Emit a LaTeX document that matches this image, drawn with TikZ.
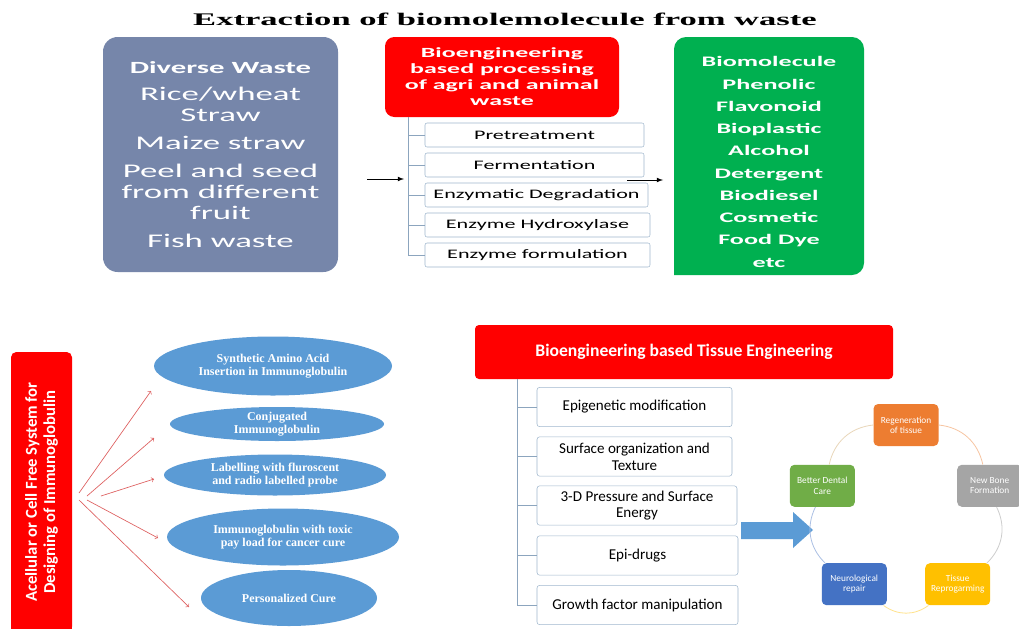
\documentclass[tikz,border=0pt]{standalone}
\usepackage{fontspec}
\setmainfont{Carlito}
\newfontfamily\titlefont[FakeStretch=1.95]{Liberation Serif}
\newfontfamily\wideA[FakeStretch=1.7]{Carlito}
\newfontfamily\wideB[FakeStretch=1.85]{Carlito}
\newfontfamily\wideC[FakeStretch=1.8]{Carlito}
\newfontfamily\blobfont{Liberation Serif}
\usepackage{tikz}
\usetikzlibrary{shapes.geometric}
\definecolor{wastegrey}{RGB}{118,134,170}
\definecolor{prodgreen}{RGB}{0,176,80}
\definecolor{blobblue}{RGB}{91,155,213}
\definecolor{stepline}{RGB}{160,184,206}
\definecolor{trunkline}{RGB}{140,165,190}
\definecolor{fanred}{RGB}{222,96,96}
\definecolor{cOrange}{RGB}{237,125,49}
\definecolor{cGrey}{RGB}{165,165,165}
\definecolor{cGold}{RGB}{255,192,0}
\definecolor{cBlue}{RGB}{68,114,196}
\definecolor{cGreen}{RGB}{112,173,71}

\begin{document}
\begin{tikzpicture}[x=0.75pt,y=-0.75pt]
		\tikzset{stepbox/.style={draw=stepline,fill=white,rounded corners=1.5pt,minimum height=18pt,inner sep=0pt,align=center,font=\wideA\fontsize{9.75}{11}\selectfont},
			tissuebox/.style={draw=stepline,fill=white,rounded corners=2pt,minimum height=29.5pt,inner sep=0pt,align=center,font=\fontsize{11.3}{12.5}\selectfont},
			blob/.style={ellipse,fill=blobblue,text=white,inner sep=0pt,align=center,font=\blobfont\bfseries\fontsize{9}{9.5}\selectfont},
			cycbox/.style={fill=#1,rounded corners=3.5pt,minimum width=48.75pt,minimum height=31.5pt,inner sep=0pt,text=white,align=center,font=\fontsize{7}{7.8}\selectfont},
			cycarc/.style={draw=#1,line width=0.6pt},
			branch/.style={draw=trunkline,line width=0.6pt},
			link/.style={-latex,line width=0.6pt},
			fan/.style={->,draw=fanred,line width=0.5pt}};
		\useasboundingbox[fill=white] (0,0) rectangle (1019,628);
		\clip (0,0) rectangle (1019,628);
		\node[anchor=base,font=\titlefont\bfseries\fontsize{13.3}{15}\selectfont] (title) at (505,25) {Extraction of biomolemolecule from waste};
		% waste sources, processing steps and products
		\node[fill=wastegrey,rounded corners=11pt,minimum width=176.25pt,minimum height=176.25pt,inner sep=0pt,text=white,align=center,font=\wideC\fontsize{14.5}{15.75}\selectfont] (waste) at (220.5,154.5)
			{{\bfseries\fontsize{12.8}{15.75}\selectfont Diverse Waste}\\[4.5pt] Rice/wheat\\ Straw\\[5pt] Maize straw\\[5.5pt] Peel and seed\\ from different\\ fruit\\[5pt] Fish waste};
		\node[fill=red,rounded corners=7pt,minimum width=175.5pt,minimum height=60pt,inner sep=0pt,text=white,align=center,font=\wideB\bfseries\fontsize{10.5}{12}\selectfont] (proc) at (502,77)
			{Bioengineering\\ based processing\\ of agri and animal\\ waste};
		\node[stepbox,minimum width=164.25pt] (s1) at (534.5,135) {Pretreatment};
		\node[stepbox,minimum width=164.25pt] (s2) at (534.5,165) {Fermentation};
		\node[stepbox,minimum width=167.25pt] (s3) at (536.5,195) {Enzymatic Degradation};
		\node[stepbox,minimum width=168.75pt] (s4) at (537.5,225) {Enzyme Hydroxylase};
		\node[stepbox,minimum width=168.75pt] (s5) at (537.5,255) {Enzyme formulation};
		\coordinate (trunk) at (proc.south -| 408,0);
		\foreach \i in {1,...,5} \draw[branch] (trunk) |- (s\i.west);
		\fill[prodgreen] (674,275) [rounded corners=9pt] |- (769,37) -| (864,275) [sharp corners] -- cycle;
		\node[text=white,align=center,font=\wideC\bfseries\fontsize{10.9}{16.7}\selectfont] (prod) at (769,162)
			{Biomolecule\\ Phenolic\\ Flavonoid\\ Bioplastic\\ Alcohol\\ Detergent\\ Biodiesel\\ Cosmetic\\ Food Dye\\ etc};
		\coordinate (inA) at (367,179);
		\coordinate (inB) at (404,179);
		\coordinate (outA) at (627,180);
		\coordinate (outB) at (663,180);
		\draw[link] (inA) -- (inB);
		\draw[link] (outA) -- (outB);
		% cell free system
		\fill[red] (11,600) rectangle (72,640);
		\node[fill=red,rounded corners=4pt,rotate=90,minimum width=210pt,minimum height=45.75pt,inner sep=0pt,text=white,align=center,font=\bfseries\fontsize{12.5}{13.7}\selectfont] (cellfree) at (41.5,492)
			{Acellular or Cell Free System for\\ Designing of Immunoglobulin};
		\node[blob,minimum width=178.5pt,minimum height=44.25pt] (e1) at (273,366) {Synthetic Amino Acid\\ Insertion in Immunoglobulin};
		\node[blob,minimum width=160.5pt,minimum height=25.5pt] (e2) at (277,424) {Conjugated\\ Immunoglobulin};
		\node[blob,minimum width=166.5pt,minimum height=30.75pt] (e3) at (275,475) {Labelling with fluroscent\\ and radio labelled probe};
		\node[blob,minimum width=174pt,minimum height=42.75pt] (e4) at (283,537) {Immunoglobulin with toxic\\ pay load for cancer cure};
		\node[blob,minimum width=132pt,minimum height=42pt] (e5) at (289,598) {Personalized Cure};
		\coordinate (f1) at (79,493);  \coordinate (g1) at (151,391);
		\coordinate (f2) at (87,496);  \coordinate (g2) at (154,438);
		\coordinate (f3) at (101,496); \coordinate (g3) at (154,479);
		\coordinate (f4) at (87,500);  \coordinate (g4) at (158,538);
		\coordinate (f5) at (79,500);  \coordinate (g5) at (189,607);
		\foreach \i in {1,...,5} \draw[fan] (f\i) -- (g\i);
		% tissue engineering
		\node[fill=red,rounded corners=3pt,minimum width=313.5pt,minimum height=40.5pt,inner sep=0pt,text=white,font=\bfseries\fontsize{13.2}{15}\selectfont] (head) at (684,352) {Bioengineering based Tissue Engineering};
		\node[tissuebox,minimum width=146.25pt] (t1) at (634.5,407) {Epigenetic modification};
		\node[tissuebox,minimum width=146.25pt] (t2) at (634.5,456.5) {Surface organization and\\ Texture};
		\node[tissuebox,minimum width=150pt] (t3) at (637,505.5) {3-D Pressure and Surface\\ Energy};
		\node[tissuebox,minimum width=150.75pt] (t4) at (637.5,555.5) {Epi-drugs};
		\node[tissuebox,minimum width=150.75pt] (t5) at (637.5,605) {Growth factor manipulation};
		\coordinate (root) at (head.south -| 517,0);
		\foreach \i in {1,...,5} \draw[branch] (root) |- (t\i.west);
		\fill[blobblue] (741,522) -- (793,522) -- (793,512) -- (813,530) -- (793,548) -- (793,539) -- (741,539) -- cycle;
		\coordinate (hub) at (906,513);
		\node[cycbox=cOrange] (regen) at ([shift={(-90:88)}]hub) {Regeneration\\ of tissue};
		\node[cycbox=cGrey] (bone) at ([shift={(-18:88)}]hub) {New Bone\\ Formation};
		\node[cycbox=cGold] (repro) at ([shift={(54:88)}]hub) {Tissue\\ Reprogarming};
		\node[cycbox=cBlue] (neuro) at ([shift={(126:88)}]hub) {Neurological\\ repair};
		\node[cycbox=cGreen] (dental) at ([shift={(198:88)}]hub) {Better Dental\\ Care};
		\draw[cycarc=cOrange!45] (regen) to[bend left=36] (bone);
		\draw[cycarc=cGrey!55] (bone) to[bend left=36] (repro);
		\draw[cycarc=cGold!45] (repro) to[bend left=36] (neuro);
		\draw[cycarc=cBlue!45] (neuro) to[bend left=36] (dental);
		\draw[cycarc=cGreen!35!cOrange!35] (dental) to[bend left=36] (regen);
	\end{tikzpicture}
\end{document}
